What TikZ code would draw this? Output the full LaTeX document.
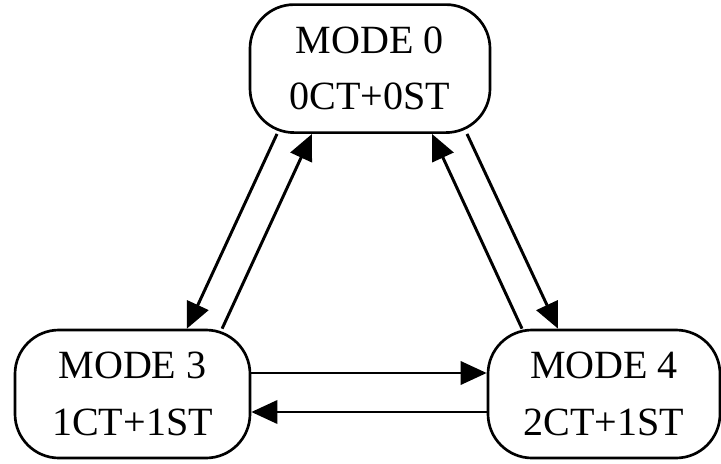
\documentclass[tikz,border=0pt]{standalone}
\usepackage{fontspec}
\setmainfont{Liberation Serif}
\usetikzlibrary{arrows.meta}

\begin{document}
\begin{tikzpicture}[
  font=\fontsize{28.5}{40}\selectfont,
  mode/.style={draw=black, line width=1.9pt, rounded corners=1.1cm,
    align=center, inner sep=0pt, minimum height=3.2cm},
  arr/.style={draw=black, line width=2.1pt, -{Triangle[length=0.65cm, width=0.58cm]}},
]
\useasboundingbox (0,0) rectangle (18.025,11.575);

% ---- the three modes ----
\node[mode, minimum width=6.0cm]   (m0) at (9.25,9.86)  {MODE 0\\0CT+0ST};
\node[mode, minimum width=5.875cm] (m3) at (3.3125,1.725) {MODE 3\\1CT+1ST};
\node[mode, minimum width=5.8cm]   (m4) at (15.1,1.725) {MODE 4\\2CT+1ST};

% ---- left pair ----
\draw[arr] ([xshift=-2.325cm]m0.south) -- ([xshift=1.36cm]m3.north);
\draw[arr] ([xshift=2.24cm]m3.north) -- ([xshift=-1.45cm]m0.south);

% ---- right pair ----
\draw[arr] ([xshift=2.425cm]m0.south) -- ([xshift=-1.15cm]m4.north);
\draw[arr] ([xshift=-2.05cm]m4.north) -- ([xshift=1.55cm]m0.south);

% ---- bottom pair ----
\draw[arr] ([yshift=0.525cm]m3.east) -- ([yshift=0.525cm]m4.west);
\draw[arr] ([yshift=-0.45cm]m4.west) -- ([yshift=-0.45cm]m3.east);
\end{tikzpicture}
\end{document}
